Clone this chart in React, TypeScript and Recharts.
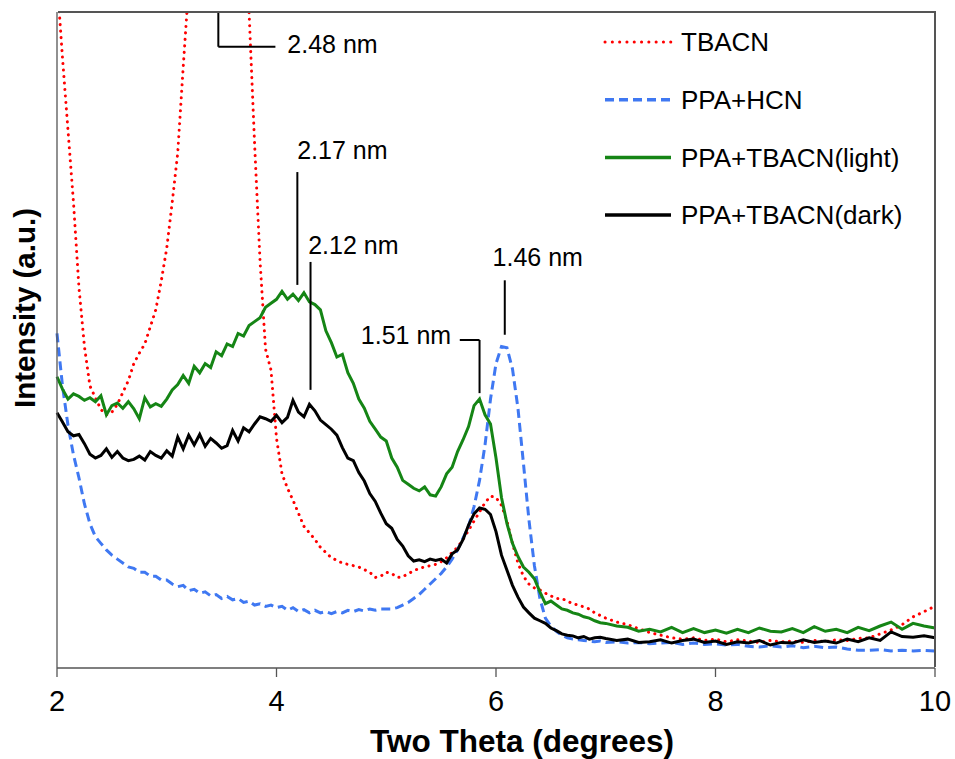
import React from "react";
import {
  Label,
  Legend,
  Line,
  LineChart,
  ReferenceDot,
  ReferenceLine,
  XAxis,
  YAxis,
} from "recharts";

const FONT = '"Liberation Sans", Arial, sans-serif';
const AXIS = "#555555";
const CHART_W = 955;
const CHART_H = 759;
const MARGIN = { top: 12, right: 20, bottom: 0, left: 0 };
const Y_AXIS_W = 57;
const X_AXIS_H = 91;

// two theta (degrees)
const twoTheta = [
  2.0, 2.05, 2.1, 2.15, 2.2, 2.25, 2.3, 2.35, 2.4, 2.45,
  2.5, 2.55, 2.6, 2.65, 2.7, 2.75, 2.8, 2.85, 2.9, 2.95,
  3.0, 3.05, 3.1, 3.15, 3.2, 3.25, 3.3, 3.35, 3.4, 3.45,
  3.5, 3.55, 3.6, 3.65, 3.7, 3.75, 3.8, 3.85, 3.9, 3.95,
  4.0, 4.05, 4.1, 4.15, 4.2, 4.25, 4.3, 4.35, 4.4, 4.45,
  4.5, 4.55, 4.6, 4.65, 4.7, 4.75, 4.8, 4.85, 4.9, 4.95,
  5.0, 5.05, 5.1, 5.15, 5.2, 5.25, 5.3, 5.35, 5.4, 5.45,
  5.5, 5.55, 5.6, 5.65, 5.7, 5.75, 5.8, 5.85, 5.9, 5.95,
  6.0, 6.05, 6.1, 6.15, 6.2, 6.25, 6.3, 6.35, 6.4, 6.45,
  6.5, 6.55, 6.6, 6.65, 6.7, 6.75, 6.8, 6.85, 6.9, 6.95,
  7.0,
  7.1, 7.2, 7.3, 7.4, 7.5, 7.6, 7.7, 7.8, 7.9, 8.0,
  8.1, 8.2, 8.3, 8.4, 8.5, 8.6, 8.7, 8.8, 8.9, 9.0,
  9.1, 9.2, 9.3, 9.4, 9.5, 9.6, 9.7, 9.8, 9.9, 10.0,
];

// intensity, arbitrary units
const tbacn = [
  105, 93, 82, 71, 58, 49, 43, 41.2, 39.4, 38.6,
  39.0, 40.2, 42.0, 43.8, 46.4, 48.0, 49.4, 52.0, 54.6, 59.0,
  64, 71, 78.5, 91.6, 104, 116, 128, 138, 145, 148,
  147, 142, 132, 121, 110, 100, 80, 62, 48.6, 45.4,
  35.0, 29.6, 27.4, 25.6, 23.6, 21.6, 20.6, 19.6, 18.4, 17.6,
  16.8, 16.4, 16.0, 15.8, 15.6, 15.4, 15.0, 14.6, 13.8, 14.0,
  14.6, 14.4, 13.8, 13.9, 14.4, 14.8, 15.2, 15.4, 15.6, 15.8,
  16.2, 16.8, 17.6, 18.4, 19.6, 21.0, 22.4, 23.8, 25.2, 26.2,
  26.0, 24.8, 22.4, 19.0, 16.0, 14.0, 12.8, 12.2, 11.9, 11.4,
  11.0, 10.6, 10.6, 10.2, 9.8, 9.6, 9.3, 9.0, 8.4, 8.0,
  7.6,
  7.0, 6.6, 6.0, 5.4, 5.0, 4.6, 4.4, 4.6, 4.2, 4.4,
  4.0, 4.3, 4.1, 3.9, 4.2, 4.0, 4.1, 3.9, 4.2, 4.0,
  4.3, 4.2, 4.5, 4.6, 5.2, 5.8, 6.6, 7.8, 8.6, 9.4,
];

const ppaHcn = [
  51.0, 43.0, 37.0, 32.5, 29.0, 25.0, 22.0, 20.0, 19.0, 18.0,
  17.2, 16.6, 16.0, 15.4, 15.2, 14.6, 14.6, 14.0, 14.0, 13.4,
  13.4, 12.8, 12.4, 12.6, 11.8, 12.0, 11.4, 11.6, 11.0, 11.2,
  10.6, 10.9, 10.4, 10.6, 10.0, 10.2, 9.6, 9.8, 9.4, 9.6,
  9.2, 9.4, 8.8, 9.2, 8.6, 8.9, 8.4, 8.8, 8.4, 8.6,
  8.3, 8.6, 8.4, 8.8, 8.6, 8.9, 8.7, 9.0, 8.8, 9.0,
  9.0, 9.0, 9.2, 9.6, 10.0, 10.6, 11.2, 12.0, 12.8, 13.6,
  14.4, 15.4, 16.6, 18.0, 19.8, 21.6, 24.6, 28.6, 34.0, 41.0,
  46.4, 49.0, 48.8, 45.6, 39.6, 31.2, 22.6, 15.6, 10.6, 7.6,
  6.4, 5.6, 5.0, 4.6, 4.4, 4.3, 4.2, 4.1, 4.0, 4.1,
  3.9,
  4.0, 3.8, 3.9, 3.7, 3.8, 3.9, 3.6, 3.8, 3.6, 3.7,
  3.5, 3.6, 3.3, 3.2, 3.4, 3.2, 3.4, 3.1, 3.3, 3.1,
  3.2, 2.9, 2.7, 2.7, 2.8, 2.6, 2.7, 2.6, 2.7, 2.6,
];

const ppaTbacnLight = [
  44.4, 42.5, 41.0, 41.8, 41.4, 40.8, 41.2, 40.6, 41.5, 38.6,
  40.0, 40.4, 39.6, 40.6, 39.5, 38.0, 41.2, 39.8, 40.3, 39.9,
  41.0, 42.4, 43.2, 44.6, 43.4, 46.0, 45.0, 46.4, 45.8, 48.2,
  47.6, 49.4, 49.0, 51.0, 50.6, 52.2, 52.8, 53.4, 55.0, 55.6,
  56.2, 57.4, 56.2, 57.0, 56.0, 57.2, 55.8, 55.4, 54.6, 51.4,
  49.6, 47.4, 47.8, 45.0, 43.4, 41.0, 39.6, 37.6, 36.4, 35.2,
  34.6, 32.0, 30.6, 28.6, 28.0, 27.4, 27.0, 27.6, 26.4, 26.2,
  27.6, 29.6, 30.6, 33.0, 34.8, 36.8, 40.0, 41.0, 38.6, 37.2,
  32.0, 26.0, 22.0, 19.0, 17.0, 15.4, 14.6, 13.6, 11.6, 9.8,
  10.2, 9.6, 9.0, 8.8, 8.4, 8.2, 7.8, 7.6, 7.2, 6.9,
  6.8,
  6.4, 6.2, 5.6, 5.9, 5.5, 6.2, 5.4, 6.0, 5.4, 5.8,
  5.3, 5.9, 5.4, 6.1, 5.6, 5.5, 6.0, 5.4, 6.3, 5.6,
  5.9, 5.4, 6.2, 5.7, 6.4, 7.0, 5.9, 6.8, 6.4, 6.1,
];

const ppaTbacnDark = [
  38.9, 37.5, 36.0, 35.4, 35.6, 34.2, 32.6, 32.0, 32.4, 33.4,
  32.1, 33.0, 32.0, 31.6, 31.8, 32.3, 31.7, 33.0, 32.4, 32.0,
  33.1, 32.3, 35.2, 33.4, 35.5, 34.0, 35.6, 33.8, 35.0, 34.3,
  33.5, 33.9, 36.2, 34.6, 36.6, 36.0, 37.2, 38.3, 38.0, 37.6,
  38.5, 37.4, 38.2, 40.8, 39.0, 38.3, 40.2, 39.2, 37.8, 37.1,
  36.4, 35.5, 33.6, 32.0, 31.6, 29.8, 28.5, 26.6, 25.4, 23.6,
  22.0, 21.3, 19.6, 18.6, 17.1, 16.3, 16.5, 16.2, 16.6, 16.4,
  16.6, 16.0, 17.4, 18.0, 19.6, 21.8, 23.5, 24.4, 24.2, 23.4,
  20.8, 17.2, 14.9, 12.6, 10.8, 9.3, 8.4, 7.6, 7.2, 6.8,
  6.1, 5.7, 5.2, 5.0, 4.9, 4.6, 4.8, 4.4, 4.6, 4.7,
  4.5,
  4.2, 4.4, 3.9, 4.0, 4.3, 3.8, 4.2, 4.4, 3.9, 4.1,
  3.6, 4.0, 3.8, 4.2, 3.5, 3.9, 3.8, 4.3, 3.9, 4.1,
  3.8, 4.4, 4.0, 4.6, 4.2, 5.5, 4.8, 4.7, 4.9, 4.6,
];

const xTicks = [2, 4, 6, 8, 10];

// peak annotations: label text and where it sits (data coords)
const peakLabels = [
  { text: "2.48 nm", x: 4.51, y: 95.1 },
  { text: "2.17 nm", x: 4.6, y: 79.0 },
  { text: "2.12 nm", x: 4.7, y: 64.5 },
  { text: "1.51 nm", x: 5.18, y: 50.8 },
  { text: "1.46 nm", x: 6.38, y: 62.7 },
];

const peakLeaders = [
  [{ x: 3.47, y: 100 }, { x: 3.47, y: 94.7 }],
  [{ x: 3.47, y: 94.7 }, { x: 3.99, y: 94.7 }],
  [{ x: 4.19, y: 75.6 }, { x: 4.19, y: 58.4 }],
  [{ x: 4.31, y: 61.9 }, { x: 4.31, y: 42.4 }],
  [{ x: 5.67, y: 50.0 }, { x: 5.85, y: 50.0 }],
  [{ x: 5.85, y: 50.0 }, { x: 5.85, y: 41.9 }],
  [{ x: 6.08, y: 59.1 }, { x: 6.08, y: 50.8 }],
];

const series = [
  { key: "tbacn", name: "TBACN", color: "#ff0000", dash: "0.1 6.4", width: 3, cap: "round" },
  { key: "hcn", name: "PPA+HCN", color: "#3f78f2", dash: "9 5", width: 3, cap: "butt" },
  { key: "light", name: "PPA+TBACN(light)", color: "#158515", dash: undefined, width: 3, cap: "butt" },
  { key: "dark", name: "PPA+TBACN(dark)", color: "#000000", dash: undefined, width: 3, cap: "butt" },
];

const data = twoTheta.map((x, i) => ({
  x,
  tbacn: tbacn[i],
  hcn: ppaHcn[i],
  light: ppaTbacnLight[i],
  dark: ppaTbacnDark[i],
}));

// plot area box, from the chart layout constants
const plotLeft = MARGIN.left + Y_AXIS_W;
const plotTop = MARGIN.top;
const plotWidth = CHART_W - plotLeft - MARGIN.right;
const plotHeight = CHART_H - MARGIN.top - MARGIN.bottom - X_AXIS_H;

function LegendBox() {
  return (
    <svg width={340} height={240} style={{ display: "block" }}>
      {series.map((s, i) => {
        const y = 42 + i * 57.7;
        return (
          <g key={s.key}>
            <line
              x1={5}
              x2={71}
              y1={y}
              y2={y}
              stroke={s.color}
              strokeWidth={s.key === "tbacn" ? 3 : 3.5}
              strokeDasharray={s.key === "tbacn" ? "0.1 7.2" : s.dash}
              strokeLinecap={s.cap as any}
            />
            <text x={81} y={y} dy="0.36em" fontSize={26} fontFamily={FONT} fill="#000">
              {s.name}
            </text>
          </g>
        );
      })}
    </svg>
  );
}

function XTitle(props: any) {
  const vb = props.viewBox;
  return (
    <text
      x={vb.x + vb.width / 2 + 26}
      y={vb.y + 84}
      textAnchor="middle"
      fontSize={31.5}
      fontWeight="bold"
      fontFamily={FONT}
      fill="#000"
    >
      Two Theta (degrees)
    </text>
  );
}

function YTitle(props: any) {
  const vb = props.viewBox;
  const cx = vb.x + 35;
  const cy = vb.y + vb.height / 2 - 32;
  return (
    <text
      x={cx}
      y={cy}
      transform={`rotate(-90, ${cx}, ${cy})`}
      textAnchor="middle"
      fontSize={29.5}
      fontWeight="bold"
      fontFamily={FONT}
      fill="#000"
    >
      Intensity (a.u.)
    </text>
  );
}

export default function App() {
  return (
    <div
      style={{
        position: "absolute",
        left: 0,
        top: 0,
        width: CHART_W,
        height: CHART_H,
        background: "#fff",
      }}
    >
      <LineChart width={CHART_W} height={CHART_H} data={data} margin={MARGIN}>
        <XAxis
          dataKey="x"
          type="number"
          domain={[2, 10]}
          ticks={xTicks}
          height={X_AXIS_H}
          tickSize={9}
          tickMargin={13}
          axisLine={{ stroke: AXIS, strokeWidth: 1.3 }}
          tickLine={{ stroke: AXIS, strokeWidth: 1.3 }}
          tick={{ fill: "#000", fontSize: 29, fontFamily: FONT }}
        >
          <Label content={XTitle} />
        </XAxis>
        <YAxis
          type="number"
          domain={[0, 100]}
          allowDataOverflow
          width={Y_AXIS_W}
          tick={false}
          tickLine={false}
          axisLine={{ stroke: AXIS, strokeWidth: 1.3 }}
        >
          <Label content={YTitle} />
        </YAxis>
        {series.map((s) => (
          <Line
            key={s.key}
            dataKey={s.key}
            name={s.name}
            type="linear"
            stroke={s.color}
            strokeWidth={s.width}
            strokeDasharray={s.dash}
            strokeLinecap={s.cap as any}
            dot={false}
            activeDot={false}
            isAnimationActive={false}
          />
        ))}
        {peakLeaders.map((seg, i) => (
          <ReferenceLine
            key={"lead" + i}
            segment={seg}
            stroke="#000"
            strokeWidth={2}
            ifOverflow="visible"
          />
        ))}
        {peakLabels.map((p) => (
          <ReferenceDot
            key={p.text}
            x={p.x}
            y={p.y}
            r={0}
            fill="none"
            stroke="none"
            label={{
              value: p.text,
              position: "center",
              fill: "#000",
              fontSize: 25,
              fontFamily: FONT,
            }}
          />
        ))}
        <Legend
          layout="vertical"
          align="center"
          verticalAlign="middle"
          content={() => <LegendBox />}
          wrapperStyle={{ left: 600, top: 0, width: 340, height: 240 }}
        />
      </LineChart>
      {/* top and right edges of the plot frame */}
      <div
        style={{
          position: "absolute",
          left: plotLeft,
          top: plotTop - 1,
          width: plotWidth,
          height: plotHeight,
          borderTop: `2px solid ${AXIS}`,
          borderRight: `2px solid ${AXIS}`,
          boxSizing: "border-box",
          marginLeft: 1,
          pointerEvents: "none",
        }}
      />
    </div>
  );
}
